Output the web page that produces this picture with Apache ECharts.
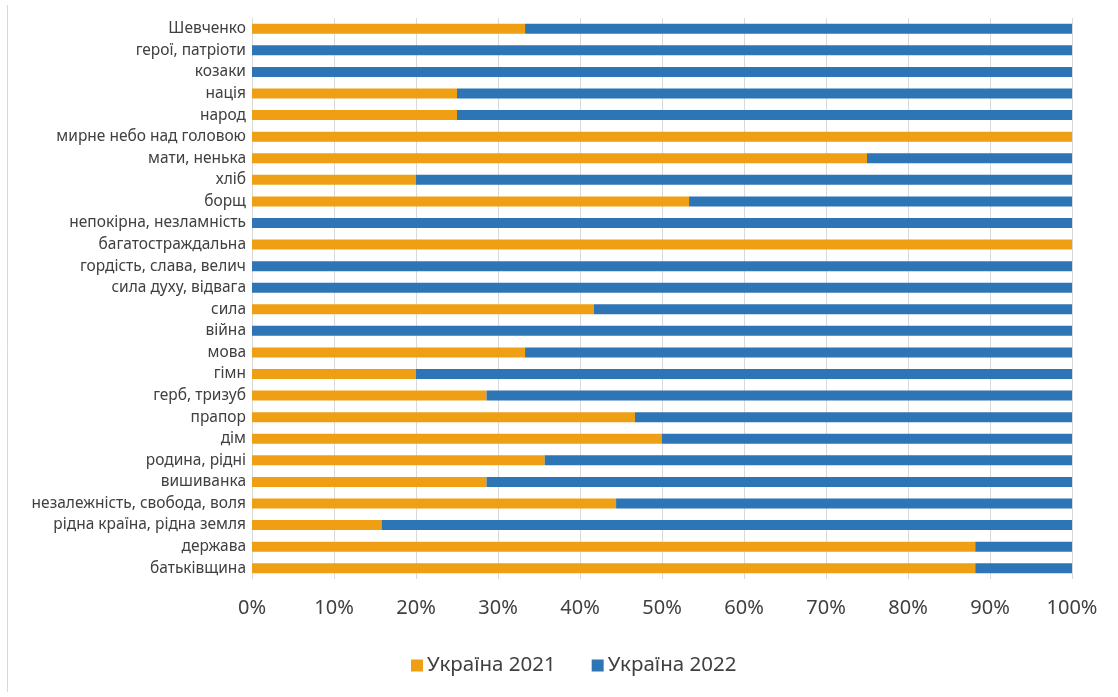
<!DOCTYPE html>
<html>
<head>
<meta charset="utf-8">
<script src="https://cdn.jsdelivr.net/npm/echarts@6/dist/echarts.min.js"></script>
<style>
html,body{margin:0;padding:0;background:#fff;}
#chart{width:1118px;height:697px;}
</style>
</head>
<body>
<div id="chart"></div>
<script>
// Categories listed bottom to top (ECharts category y-axis starts at the bottom)
const categories = [
  "батьківщина","держава","рідна країна, рідна земля","незалежність, свобода, воля",
  "вишиванка","родина, рідні","дім","прапор","герб, тризуб","гімн","мова","війна",
  "сила","сила духу, відвага","гордість, слава, велич","багатостраждальна",
  "непокірна, незламність","борщ","хліб","мати, ненька","мирне небо над головою",
  "народ","нація","козаки","герої, патріоти","Шевченко"
];
const ukraine2021 = [
  88.2, 88.2, 15.8, 44.4, 28.6, 35.7, 50, 46.7, 28.6, 20, 33.3, 0,
  41.7, 0, 0, 100, 0, 53.3, 20, 75, 100, 25, 25, 0, 0, 33.3
];
const ukraine2022 = [
  11.8, 11.8, 84.2, 55.6, 71.4, 64.3, 50, 53.3, 71.4, 80, 66.7, 100,
  58.3, 100, 100, 0, 100, 46.7, 80, 25, 0, 75, 75, 100, 100, 66.7
];
const seriesNames = ["Україна 2021", "Україна 2022"];
const xTicks = [0, 10, 20, 30, 40, 50, 60, 70, 80, 90, 100];

const chart = echarts.init(document.getElementById('chart'), null, {renderer: 'canvas'});
const font = "'Noto Sans', 'Open Sans', sans-serif";
const option = {
  backgroundColor: '#ffffff',
  animation: false,
  graphic: [{
    type: 'line',
    shape: {x1: 7.5, y1: 5, x2: 7.5, y2: 692},
    style: {stroke: '#d9d9d9', lineWidth: 1}
  }],
  grid: {left: 252, right: 46, top: 18, bottom: 118, containLabel: false},
  legend: {
    data: seriesNames,
    left: 406,
    top: 650,
    itemWidth: 12,
    itemHeight: 12,
    itemGap: 36,
    icon: 'rect',
    textStyle: {fontFamily: font, fontSize: 20.5, color: '#404040', padding: [0, 0, 0, -1]}
  },
  xAxis: {
    type: 'value',
    min: xTicks[0],
    max: xTicks[xTicks.length - 1],
    interval: 10,
    axisLine: {show: false},
    axisTick: {show: false},
    splitLine: {show: true, lineStyle: {color: '#d9d9d9', width: 1}},
    axisLabel: {
      formatter: v => v + '%',
      fontFamily: font, fontSize: 20, color: '#404040', margin: 19
    }
  },
  yAxis: {
    type: 'category',
    data: categories,
    axisLine: {show: true, lineStyle: {color: '#d9d9d9', width: 1}},
    axisTick: {show: false},
    axisLabel: {fontFamily: font, fontSize: 15.5, color: '#404040', margin: 6, interval: 0}
  },
  series: [
    {
      name: seriesNames[0], type: 'bar', stack: 'total', data: ukraine2021,
      barWidth: 10,
      itemStyle: {color: '#EE9F14'}
    },
    {
      name: seriesNames[1], type: 'bar', stack: 'total', data: ukraine2022,
      barWidth: 10,
      itemStyle: {color: '#2E75B6'}
    }
  ]
};
chart.setOption(option);
</script>
</body>
</html>
